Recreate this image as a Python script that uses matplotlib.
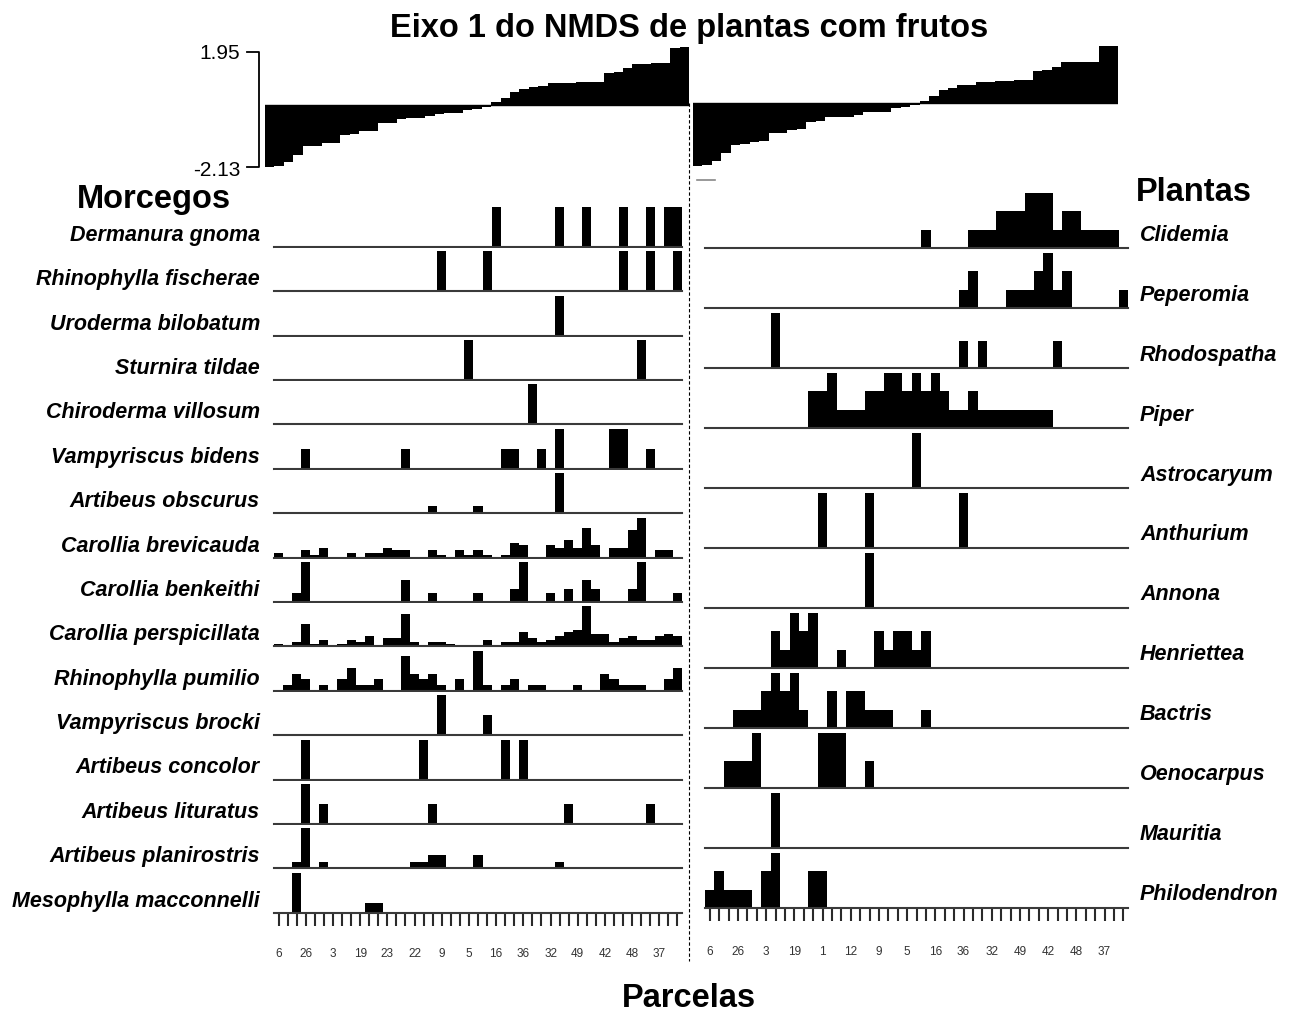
import numpy as np
import matplotlib.pyplot as plt

plt.rcParams['font.family'] = ['Liberation Sans', 'DejaVu Sans']

# Eixo 1 do NMDS (parcelas ordenadas)
nmds_eixo1 = [-2.13, -2.10, -1.96, -1.71, -1.42, -1.40, -1.31, -1.29, -1.03, -1.01,
              -0.90, -0.88, -0.64, -0.62, -0.48, -0.47, -0.46, -0.39, -0.31, -0.30,
              -0.29, -0.17, -0.15, -0.08, 0.08, 0.24, 0.44, 0.52, 0.61, 0.63,
              0.72, 0.73, 0.74, 0.76, 0.77, 0.78, 1.09, 1.11, 1.23, 1.38,
              1.39, 1.40, 1.41, 1.94, 1.95]

parcelas_morcegos = ['6', '26', '3', '19', '23', '22', '9', '5', '16', '36', '32', '49', '42', '48', '37']
parcelas_plantas = ['6', '26', '3', '19', '1', '12', '9', '5', '16', '36', '32', '49', '42', '48', '37']

# Morcegos (abundancia por parcela, mesma ordem do NMDS)
nomes_morcegos = ['Dermanura gnoma', 'Rhinophylla fischerae', 'Uroderma bilobatum', 'Sturnira tildae',
                  'Chiroderma villosum', 'Vampyriscus bidens', 'Artibeus obscurus', 'Carollia brevicauda',
                  'Carollia benkeithi', 'Carollia perspicillata', 'Rhinophylla pumilio', 'Vampyriscus brocki',
                  'Artibeus concolor', 'Artibeus lituratus', 'Artibeus planirostris', 'Mesophylla macconnelli']
dermanura_gnoma = [0,0,0,0,0, 0,0,0,0,0, 0,0,0,0,0, 0,0,0,0,0, 0,0,0,0,1, 0,0,0,0,0, 0,1,0,0,1, 0,0,0,1,0, 0,1,0,1,1]
rhinophylla_fischerae = [0,0,0,0,0, 0,0,0,0,0, 0,0,0,0,0, 0,0,0,1,0, 0,0,0,1,0, 0,0,0,0,0, 0,0,0,0,0, 0,0,0,1,0, 0,1,0,0,1]
uroderma_bilobatum = [0,0,0,0,0, 0,0,0,0,0, 0,0,0,0,0, 0,0,0,0,0, 0,0,0,0,0, 0,0,0,0,0, 0,1,0,0,0, 0,0,0,0,0, 0,0,0,0,0]
sturnira_tildae = [0,0,0,0,0, 0,0,0,0,0, 0,0,0,0,0, 0,0,0,0,0, 0,1,0,0,0, 0,0,0,0,0, 0,0,0,0,0, 0,0,0,0,0, 1,0,0,0,0]
chiroderma_villosum = [0,0,0,0,0, 0,0,0,0,0, 0,0,0,0,0, 0,0,0,0,0, 0,0,0,0,0, 0,0,0,1,0, 0,0,0,0,0, 0,0,0,0,0, 0,0,0,0,0]
vampyriscus_bidens = [0,0,0,1,0, 0,0,0,0,0, 0,0,0,0,1, 0,0,0,0,0, 0,0,0,0,0, 1,1,0,0,1, 0,2,0,0,0, 0,0,2,2,0, 0,1,0,0,0]
artibeus_obscurus = [0,0,0,0,0, 0,0,0,0,0, 0,0,0,0,0, 0,0,1,0,0, 0,0,1,0,0, 0,0,0,0,0, 0,6,0,0,0, 0,0,0,0,0, 0,0,0,0,0]
carollia_brevicauda = [2,0,0,3,1, 4,0,0,2,0, 2,2,4,3,3, 0,0,3,1,0, 3,1,3,1,0, 1,6,5,0,0, 5,4,7,4,12, 5,0,4,4,11, 16,0,3,3,0]
carollia_benkeithi = [0,0,2,9,0, 0,0,0,0,0, 0,0,0,0,5, 0,0,2,0,0, 0,0,2,0,0, 0,3,9,0,0, 2,0,3,0,5, 3,0,0,0,3, 9,0,0,0,2]
carollia_perspicillata = [1,0,2,11,1, 3,0,1,3,2, 5,0,4,4,16, 2,0,2,2,1, 0,0,0,3,0, 2,2,7,4,2, 3,5,7,8,20, 6,6,2,4,5, 3,3,5,6,5]
rhinophylla_pumilio = [0,1,3,2,0, 1,0,2,4,1, 1,2,0,0,6, 3,2,3,1,0, 2,0,7,1,0, 1,2,0,1,1, 0,0,0,1,0, 0,3,2,1,1, 1,0,0,2,4]
vampyriscus_brocki = [0,0,0,0,0, 0,0,0,0,0, 0,0,0,0,0, 0,0,0,2,0, 0,0,0,1,0, 0,0,0,0,0, 0,0,0,0,0, 0,0,0,0,0, 0,0,0,0,0]
artibeus_concolor = [0,0,0,1,0, 0,0,0,0,0, 0,0,0,0,0, 0,1,0,0,0, 0,0,0,0,0, 1,0,1,0,0, 0,0,0,0,0, 0,0,0,0,0, 0,0,0,0,0]
artibeus_lituratus = [0,0,0,2,0, 1,0,0,0,0, 0,0,0,0,0, 0,0,1,0,0, 0,0,0,0,0, 0,0,0,0,0, 0,0,1,0,0, 0,0,0,0,0, 0,1,0,0,0]
artibeus_planirostris = [0,0,1,6,0, 1,0,0,0,0, 0,0,0,0,0, 1,1,2,2,0, 0,0,2,0,0, 0,0,0,0,0, 0,1,0,0,0, 0,0,0,0,0, 0,0,0,0,0]
mesophylla_macconnelli = [0,0,4,0,0, 0,0,0,0,0, 1,1,0,0,0, 0,0,0,0,0, 0,0,0,0,0, 0,0,0,0,0, 0,0,0,0,0, 0,0,0,0,0, 0,0,0,0,0]

# Plantas
nomes_plantas = ['Clidemia', 'Peperomia', 'Rhodospatha', 'Piper', 'Astrocaryum', 'Anthurium',
                 'Annona', 'Henriettea', 'Bactris', 'Oenocarpus', 'Mauritia', 'Philodendron']
clidemia = [0,0,0,0,0, 0,0,0,0,0, 0,0,0,0,0, 0,0,0,0,0, 0,0,0,1,0, 0,0,0,1,1, 1,2,2,2,3, 3,3,1,2,2, 1,1,1,1,0]
peperomia = [0,0,0,0,0, 0,0,0,0,0, 0,0,0,0,0, 0,0,0,0,0, 0,0,0,0,0, 0,0,1,2,0, 0,0,1,1,1, 2,3,1,2,0, 0,0,0,0,1]
rhodospatha = [0,0,0,0,0, 0,0,2,0,0, 0,0,0,0,0, 0,0,0,0,0, 0,0,0,0,0, 0,0,1,0,1, 0,0,0,0,0, 0,0,1,0,0, 0,0,0,0,0]
piper = [0,0,0,0,0, 0,0,0,0,0, 0,2,2,3,1, 1,1,2,2,3, 3,2,3,2,3, 2,1,1,2,1, 1,1,1,1,1, 1,1,0,0,0, 0,0,0,0,0]
astrocaryum = [0,0,0,0,0, 0,0,0,0,0, 0,0,0,0,0, 0,0,0,0,0, 0,0,1,0,0, 0,0,0,0,0, 0,0,0,0,0, 0,0,0,0,0, 0,0,0,0,0]
anthurium = [0,0,0,0,0, 0,0,0,0,0, 0,0,1,0,0, 0,0,1,0,0, 0,0,0,0,0, 0,0,1,0,0, 0,0,0,0,0, 0,0,0,0,0, 0,0,0,0,0]
annona = [0,0,0,0,0, 0,0,0,0,0, 0,0,0,0,0, 0,0,1,0,0, 0,0,0,0,0, 0,0,0,0,0, 0,0,0,0,0, 0,0,0,0,0, 0,0,0,0,0]
henriettea = [0,0,0,0,0, 0,0,2,1,3, 2,3,0,0,1, 0,0,0,2,1, 2,2,1,2,0, 0,0,0,0,0, 0,0,0,0,0, 0,0,0,0,0, 0,0,0,0,0]
bactris = [0,0,0,1,1, 1,2,3,2,3, 1,0,0,2,0, 2,2,1,1,1, 0,0,0,1,0, 0,0,0,0,0, 0,0,0,0,0, 0,0,0,0,0, 0,0,0,0,0]
oenocarpus = [0,0,1,1,1, 2,0,0,0,0, 0,0,2,2,2, 0,0,1,0,0, 0,0,0,0,0, 0,0,0,0,0, 0,0,0,0,0, 0,0,0,0,0, 0,0,0,0,0]
mauritia = [0,0,0,0,0, 0,0,1,0,0, 0,0,0,0,0, 0,0,0,0,0, 0,0,0,0,0, 0,0,0,0,0, 0,0,0,0,0, 0,0,0,0,0, 0,0,0,0,0]
philodendron = [1,2,1,1,1, 0,2,3,0,0, 0,2,2,0,0, 0,0,0,0,0, 0,0,0,0,0, 0,0,0,0,0, 0,0,0,0,0, 0,0,0,0,0, 0,0,0,0,0]

morcegos = [dermanura_gnoma, rhinophylla_fischerae, uroderma_bilobatum, sturnira_tildae,
            chiroderma_villosum, vampyriscus_bidens, artibeus_obscurus, carollia_brevicauda,
            carollia_benkeithi, carollia_perspicillata, rhinophylla_pumilio, vampyriscus_brocki,
            artibeus_concolor, artibeus_lituratus, artibeus_planirostris, mesophylla_macconnelli]
plantas = [clidemia, peperomia, rhodospatha, piper, astrocaryum, anthurium,
           annona, henriettea, bactris, oenocarpus, mauritia, philodendron]

W, H = 1295, 1012
fig = plt.figure(figsize=(W / 100, H / 100), dpi=100)


def px_axes(x, y, w, h):
    # posicao em pixels (origem no canto superior esquerdo)
    return fig.add_axes([x / W, 1 - (y + h) / H, w / W, h / H])


def painel_nmds(x, y, w, h):
    ax = px_axes(x, y, w, h)
    pos = np.arange(len(nmds_eixo1))
    ax.bar(pos, nmds_eixo1, width=1.0, color='black', linewidth=0)
    ax.axhline(0, color='black', lw=1)
    ax.set_xlim(-0.5, len(nmds_eixo1) - 0.5)
    ax.set_ylim(-2.13, 1.95)
    ax.axis('off')


def painel_linha(x, base, w, alt, alt_barra, valores, rotulos=None, pad=13):
    ax = px_axes(x, base - alt, w, alt)
    pos = np.arange(len(valores))
    ax.bar(pos, valores, width=1.0, color='black', linewidth=0)
    ax.axhline(0, color='#3a3a3a', lw=1.5, clip_on=False)
    ax.set_xlim(-0.5, len(valores) - 0.5)
    ax.set_ylim(0, max(valores) * alt / alt_barra)
    for s in ax.spines.values():
        s.set_visible(False)
    ax.set_yticks([])
    if rotulos is None:
        ax.set_xticks([])
    else:
        ax.set_xticks(pos)
        ax.set_xticklabels([rotulos[i // 3] if i % 3 == 0 else '' for i in pos])
        ax.tick_params(axis='x', direction='out', length=9.5, width=1.5, color='#2a2a2a',
                       pad=pad, labelsize=8.5, labelcolor='#333333')
    return ax


painel_nmds(265, 48.3, 424, 120)
painel_nmds(693, 46.7, 425, 120)

ov = fig.add_axes([0, 0, 1, 1])
ov.set_xlim(0, W)
ov.set_ylim(H, 0)
ov.axis('off')

# Morcegos
for k, (nome, vals) in enumerate(zip(nomes_morcegos, morcegos)):
    base = 247.7 + k * 44.4
    ult = k == len(morcegos) - 1
    painel_linha(274, base, 408, 43, 40, vals, parcelas_morcegos if ult else None, pad=15)
    ov.text(260, base - 12.5, nome, ha='right', va='center', fontsize=15.5,
            fontweight='bold', fontstyle='italic')

# Plantas
for k, (nome, vals) in enumerate(zip(nomes_plantas, plantas)):
    base = 249 + k * 60
    ult = k == len(plantas) - 1
    painel_linha(705, base, 423, 58, 55, vals, parcelas_plantas if ult else None, pad=17.5)
    ov.text(1140, base - 14, nome, ha='left', va='center', fontsize=15.5,
            fontweight='bold', fontstyle='italic')

# escala do NMDS
ov.plot([247, 259, 259, 247], [53, 53, 168, 168], color='black', lw=1.3)
ov.text(240, 53, '1.95', ha='right', va='center', fontsize=15)
ov.text(240, 170, '-2.13', ha='right', va='center', fontsize=15)
ov.plot([697, 715], [181, 181], color='#888888', lw=1.2)

# divisoria
ov.plot([689, 689], [104, 962], color='black', lw=0.8, ls=(0, (3, 2)))

ov.text(689, 28, 'Eixo 1 do NMDS de plantas com frutos', ha='center', va='center',
        fontsize=23.5, fontweight='bold')
ov.text(153.5, 199, 'Morcegos', ha='center', va='center', fontsize=23.5, fontweight='bold')
ov.text(1194, 192, 'Plantas', ha='center', va='center', fontsize=23.5, fontweight='bold')
ov.text(689, 999, 'Parcelas', ha='center', va='center', fontsize=23.5, fontweight='bold')

fig.savefig('out.png', dpi=100)
